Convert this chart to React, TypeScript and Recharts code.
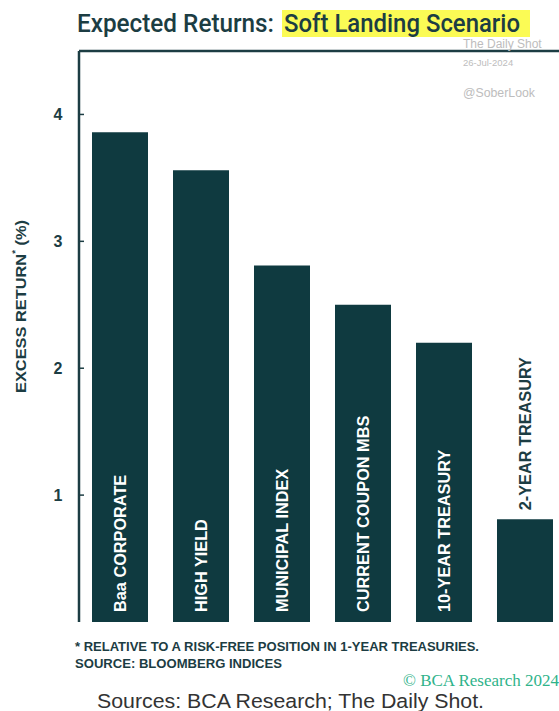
import { BarChart, Bar, XAxis, YAxis, ReferenceLine, LabelList, Cell } from "recharts";

const CATEGORIES = ["Baa CORPORATE", "HIGH YIELD", "MUNICIPAL INDEX", "CURRENT COUPON MBS", "10-YEAR TREASURY", "2-YEAR TREASURY"];
const EXCESS_RETURN = [3.86, 3.56, 2.81, 2.5, 2.2, 0.81];
const Y_TICKS = [1, 2, 3, 4];

const INK = "#1c3d43";
const BAR = "#0f3a40";
const SANS = "'Liberation Sans', Arial, sans-serif";

const data = CATEGORIES.map((name, i) => ({ name, value: EXCESS_RETURN[i] }));

function YTick({ x, y, payload }: any) {
  return (
    <g>
      <line x1={x} x2={x + 5} y1={y} y2={y} stroke={INK} strokeWidth={1.5} />
      <text x={x - 21} y={y} textAnchor="middle" dominantBaseline="central" fontFamily={SANS} fontWeight="bold" fontSize={16} fill={INK}>
        {payload.value}
      </text>
    </g>
  );
}

function YLabel({ viewBox }: any) {
  const cy = viewBox.y + viewBox.height / 2 - 30;
  return (
    <text
      transform={`translate(20, ${cy}) rotate(-90)`}
      textAnchor="middle"
      dominantBaseline="central"
      fontFamily={SANS}
      fontWeight="bold"
      fontSize={15}
      fill={INK}
      textLength={173}
      lengthAdjust="spacingAndGlyphs"
    >
      EXCESS RETURN<tspan fontSize={9} dy={-5}>*</tspan>
      <tspan dy={5}> (%)</tspan>
    </text>
  );
}

function BarName(props: any) {
  const { x, y, width, height, index } = props;
  const cx = x + width / 2;
  const inside = height > 200;
  const sy = inside ? y + height - 10 : y - 9;
  return (
    <text
      transform={`translate(${cx}, ${sy}) rotate(-90)`}
      textAnchor="start"
      dominantBaseline="central"
      fontFamily={SANS}
      fontWeight="bold"
      fontSize={16.3}
      fill={inside ? "#ffffff" : INK}
    >
      {CATEGORIES[index]}
    </text>
  );
}

export default function App() {
  return (
    <div style={{ position: "absolute", top: 0, left: 0, width: 559, height: 711, overflow: "hidden", background: "#fff" }}>
      <div style={{ position: "absolute", top: 0, left: 0 }}>
        <BarChart width={600} height={711} data={data} margin={{ top: 51, right: 35, bottom: 89, left: 0 }}>
          <XAxis dataKey="name" tick={false} tickLine={false} height={0} axisLine={{ stroke: INK, strokeWidth: 2.5 }} />
          <YAxis
            width={79}
            domain={[0, 4.5]}
            ticks={Y_TICKS}
            tick={<YTick />}
            tickLine={false}
            tickSize={0}
            tickMargin={0}
            axisLine={{ stroke: INK, strokeWidth: 2.5 }}
            label={<YLabel />}
          />
          <ReferenceLine y={4.5} stroke={INK} strokeWidth={2.5} ifOverflow="extendDomain" />
          <Bar dataKey="value" barSize={56} isAnimationActive={false}>
            {data.map((d) => (
              <Cell key={d.name} fill={BAR} />
            ))}
            <LabelList dataKey="value" content={<BarName />} />
          </Bar>
        </BarChart>
      </div>
      <svg width={559} height={711} style={{ position: "absolute", top: 0, left: 0, pointerEvents: "none" }}>
        <rect x={282} y={10} width={248} height={27} fill="#fbfb55" />
        <text x={77} y={31.5} fontFamily="Roboto, sans-serif" fontWeight={500} fontSize={26.5} fill={INK} textLength={197} lengthAdjust="spacingAndGlyphs">
          Expected Returns:
        </text>
        <text x={284} y={31.5} fontFamily="Roboto, sans-serif" fontWeight={500} fontSize={26.5} fill={INK} textLength={236} lengthAdjust="spacingAndGlyphs">
          Soft Landing Scenario
        </text>
        <text x={463} y={47.5} fontFamily={SANS} fontSize={12} fill="#bdbdbd">The Daily Shot</text>
        <text x={463} y={66} fontFamily={SANS} fontSize={9.5} fill="#bdbdbd">26-Jul-2024</text>
        <text x={463} y={97} fontFamily={SANS} fontSize={12.3} fill="#bdbdbd">@SoberLook</text>
        <text x={75} y={651} fontFamily={SANS} fontWeight="bold" fontSize={13} fill={INK} textLength={404} lengthAdjust="spacingAndGlyphs">
          * RELATIVE TO A RISK-FREE POSITION IN 1-YEAR TREASURIES.
        </text>
        <text x={75} y={668} fontFamily={SANS} fontWeight="bold" fontSize={13} fill={INK} textLength={207} lengthAdjust="spacingAndGlyphs">
          SOURCE: BLOOMBERG INDICES
        </text>
        <text x={403} y={686} fontFamily="'Liberation Serif', serif" fontSize={17} fill="#2fb38a">
          © BCA Research 2024
        </text>
        <text x={97} y={708} fontFamily={SANS} fontSize={20.5} fill="#333333" textLength={387} lengthAdjust="spacingAndGlyphs">
          Sources: BCA Research; The Daily Shot.
        </text>
      </svg>
    </div>
  );
}
